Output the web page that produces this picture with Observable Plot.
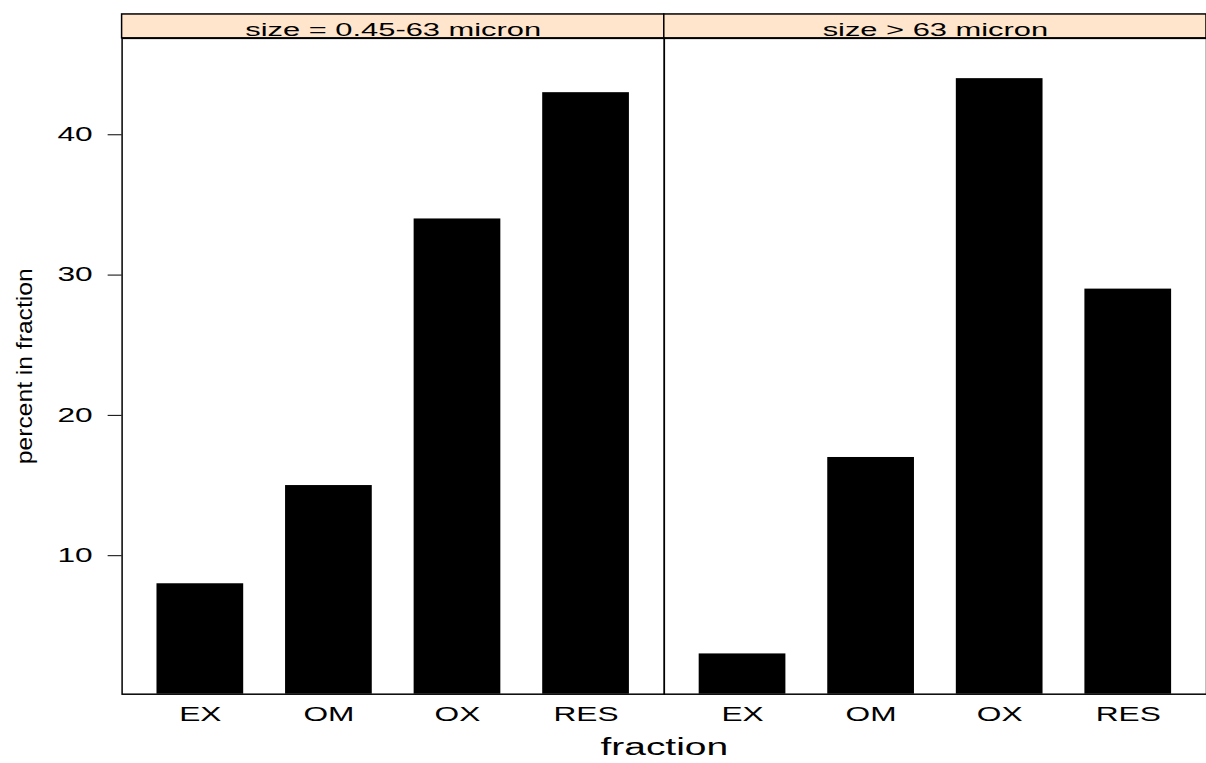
<!DOCTYPE html>
<html><head><meta charset="utf-8">
<script src="https://cdn.jsdelivr.net/npm/d3@7"></script>
<script src="https://cdn.jsdelivr.net/npm/@observablehq/plot@0.6"></script>
<style>html,body{margin:0;padding:0;background:#fff;overflow:hidden}</style>
</head><body><div id="chart"></div>
<script>
const sizes = ["size = 0.45-63 micron", "size > 63 micron"];
const fractions = ["EX", "OM", "OX", "RES"];
const fineValues = [8, 15, 34, 43];
const coarseValues = [3, 17, 44, 29];
const yTicks = [10, 20, 30, 40];
const xTitle = "fraction";
const yTitle = "percent in fraction";

const rows = [
  ...fractions.map((f, i) => ({size: sizes[0], fraction: f, value: fineValues[i]})),
  ...fractions.map((f, i) => ({size: sizes[1], fraction: f, value: coarseValues[i]}))
];
const [lo, hi] = d3.extent(rows, d => d.value);
const pad = (hi - lo) * 0.07;
const yMin = lo - pad, yMax = hi + pad;
const FONT = "'Liberation Sans', Arial, Helvetica, sans-serif";

const plot = Plot.plot({
  width: 1210, height: 763,
  marginLeft: 122, marginRight: 0, marginTop: 38, marginBottom: 67,
  style: {fontFamily: FONT, background: "white", color: "black"},
  fx: {domain: sizes, padding: 0},
  x: {domain: fractions, paddingInner: 0.325, paddingOuter: 0.255},
  y: {domain: [yMin, yMax]},
  marks: [
    Plot.barY(rows, {fx: "size", x: "fraction", y1: () => yMin, y2: "value", fill: "black"}),
    Plot.rect(sizes, {fx: d => d, y1: () => yMax, y2: () => yMax, insetTop: -24, fill: "#FFE5CC", stroke: "black", strokeWidth: 1.5}),
    Plot.text(sizes, {fx: d => d, frameAnchor: "top", lineAnchor: "bottom", dy: -2, text: d => d, fontSize: 19, fill: "black"}),
    Plot.frame({stroke: "black", strokeWidth: 1.5}),
    Plot.axisY({anchor: "left", ticks: yTicks, tickSize: 14, tickPadding: 15.5, fontSize: 19.5, label: null}),
    Plot.axisY({anchor: "left", ticks: [], label: yTitle, labelAnchor: "center", labelArrow: "none", labelOffset: 107, fontSize: 24}),
    Plot.axisX({anchor: "bottom", tickSize: 0, tickPadding: 13.3, fontSize: 19.5, label: null}),
    Plot.axisFx({anchor: "bottom", ticks: [], label: xTitle, labelAnchor: "center", labelArrow: "none", labelOffset: 61, fontSize: 24})
  ]
});
document.getElementById("chart").append(plot);

const S = 1.63;
plot.querySelectorAll("text").forEach(t => {
  const tr = t.getAttribute("transform");
  const rotated = tr && tr.includes("rotate");
  const sc = rotated ? "scale(1.03,0.95)" : `scale(${S},1)`;
  if (tr) t.setAttribute("transform", `${tr} ${sc}`);
  else {
    const b = t.getBBox();
    const cx = b.x + b.width / 2;
    t.setAttribute("transform", `translate(${cx},0) ${sc} translate(${-cx},0)`);
  }
});
</script>
</body></html>
